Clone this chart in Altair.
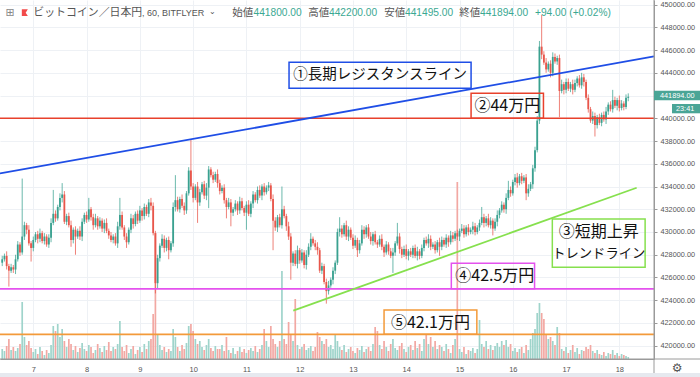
import json
import altair as alt
import pandas as pd

# ---------------- data ----------------
FIRST_HOUR = 10          # first candle: hour index counted from Jan 6 00:00
first_open = 427300
closes = [
    427600, 427900, 427000, 426600, 426900, 426700, 427600, 428900, 428200, 429600,
    430600, 430200, 429000, 428600, 429300, 429800, 429400, 429900, 429200, 429600,
    428900, 429500, 430800, 431600, 431200, 432200, 433000, 433300, 430900, 431400,
    430600, 429300, 430200, 429600, 430100, 429600, 430900, 431500, 431100, 432000,
    431300, 430600, 431200, 430500, 431000, 430300, 430800, 430100, 429700, 429300,
    429600, 429000, 430500, 431500, 430400, 429600, 429100, 430200, 431200, 430700,
    431600, 431000, 431900, 431400, 432200, 431600, 432600, 432300, 429900, 425500,
    427700, 428800, 429400, 428600, 429300, 428400, 429000, 432200, 432800, 432000,
    432900, 432300, 431900, 433400, 435400, 434000, 433000, 434000, 432600, 433500,
    434200, 433200, 433900, 435500, 435000, 434600, 435100, 434300, 433600, 433900,
    432800, 432200, 432600, 431700, 432000, 432500, 431900, 432700, 432100, 431700,
    432400, 431600, 432500, 433300, 432800, 433700, 433200, 434000, 433500, 433900,
    434100, 432900, 431000, 430400, 431300, 430600, 432000, 431400, 430500, 429600,
    427300, 428100, 427200, 428400, 427500, 428200, 427100, 428000, 428700, 429400,
    429000, 428700,
    428400, 426600, 427000, 425600, 424800, 425300, 425800, 426600, 427300, 430000,
    430300, 429800, 430600, 429600, 430200, 429500, 428800, 429300, 428400, 429000,
    430200, 429800, 430400, 429600, 429200, 429800, 429100, 428900, 429400, 428700,
    428200, 428900, 428300, 427900, 428200, 429000, 429600, 428500, 428000, 428500,
    427900, 428300, 428000, 428600, 427900, 428300, 427900, 428600, 429300, 429000,
    429400, 428700, 428900, 428400, 429100, 428700, 429300, 428900, 429500, 429100,
    429700, 429400, 429900, 429600, 430100, 430300, 429800, 430400, 430000, 430200,
    430500, 430000, 430400, 430800, 431300, 430800, 431200, 430600, 431000, 430300,
    430900, 431500, 431900, 432400, 432000, 433000, 433700, 433400, 434400, 434800,
    434300, 434900, 434500, 434800, 433400, 433800, 434200, 435600, 437200, 439800,
    446300, 445600, 444900, 444300, 444800, 444000, 445400, 445000, 445300, 442400,
    443000, 442500, 443200, 442600, 443000, 442500, 443100, 443500, 442900, 443600,
    443200, 441800, 440800, 439800, 440200, 439400, 440100, 439600, 440300, 439900,
    440600, 441200, 440800, 441600, 441100, 441600, 440900, 441300, 441000, 441800,
    441894,
]
# wick lengths above / below the body, in hundreds of yen
upper_wick = [
    3, 2, 4, 2, 3, 2, 4, 3, 2, 51, 3, 2, 4, 2, 3, 2, 3, 4, 2, 3,
    2, 3, 4, 21, 3, 2, 4, 10, 3, 2, 3, 4, 2, 3, 2, 4, 3, 2, 3, 10,
    2, 3, 4, 2, 3, 2, 3, 4, 2, 3, 2, 3, 4, 15, 3, 2, 3, 2, 4, 3,
    2, 3, 4, 2, 3, 2, 3, 4, 3, 2, 3, 2, 4, 3, 2, 3, 2, 4, 22, 3,
    2, 4, 3, 2, 3, 27, 3, 2, 4, 3, 2, 3, 4, 3, 2, 3, 2, 4, 3, 2,
    3, 2, 4, 3, 2, 3, 2, 4, 3, 2, 3, 4, 2, 3, 2, 3, 4, 2, 3, 2,
    3, 2, 4, 3, 2, 3, 20, 3, 2, 4, 3, 2, 3, 4, 2, 3, 2, 4, 3, 5,
    2, 3, 4, 2, 3, 2, 3, 4, 2, 3, 2, 3, 10, 3, 2, 4, 3, 2, 3, 4,
    2, 3, 4, 3, 2, 3, 4, 2, 3, 2, 3, 4, 2, 3, 2, 3, 4, 2, 12, 3,
    2, 3, 4, 2, 3, 2, 3, 4, 2, 3, 2, 3, 4, 3, 2, 3, 2, 4, 3, 2,
    3, 2, 4, 3, 2, 3, 2, 4, 3, 2, 3, 2, 4, 3, 2, 3, 9, 3, 2, 4,
    3, 2, 3, 4, 2, 3, 2, 4, 8, 3, 2, 3, 4, 2, 3, 2, 3, 4, 2, 3,
    3, 4, 5, 28, 3, 4, 2, 3, 4, 3, 2, 3, 4, 2, 3, 3, 2, 4, 3, 2,
    3, 4, 3, 2, 3, 2, 4, 3, 2, 3, 2, 3, 4, 2, 3, 9, 3, 2, 4, 3,
    2, 3, 3,
]
lower_wick = [
    3, 2, 3, 14, 2, 3, 4, 2, 3, 2, 3, 4, 2, 12, 3, 2, 4, 3, 2, 3,
    2, 3, 4, 2, 3, 2, 3, 4, 2, 3, 2, 6, 3, 16, 2, 3, 4, 2, 3, 2,
    3, 4, 2, 3, 2, 3, 4, 2, 3, 2, 3, 2, 4, 3, 2, 3, 5, 2, 3, 4,
    2, 3, 2, 4, 3, 2, 3, 4, 2, 9, 5, 3, 2, 4, 3, 8, 2, 3, 4, 2,
    3, 2, 4, 3, 2, 3, 4, 2, 18, 3, 2, 3, 4, 18, 2, 3, 2, 4, 3, 2,
    3, 10, 2, 12, 3, 2, 4, 3, 2, 3, 15, 2, 3, 4, 2, 3, 2, 4, 3, 2,
    3, 2, 26, 3, 4, 2, 3, 2, 4, 3, 15, 3, 2, 4, 3, 2, 3, 4, 2, 3,
    2, 3, 4, 2, 3, 2, 11, 3, 2, 4, 3, 2, 4, 3, 2, 3, 4, 2, 3, 2,
    6, 3, 2, 4, 3, 2, 3, 4, 2, 3, 2, 3, 4, 2, 3, 2, 15, 3, 2, 4,
    3, 2, 3, 4, 2, 3, 2, 4, 3, 2, 3, 2, 4, 3, 2, 3, 2, 8, 3, 2,
    3, 4, 2, 3, 2, 3, 4, 2, 3, 2, 3, 2, 4, 3, 2, 3, 2, 4, 3, 2,
    3, 6, 2, 4, 3, 2, 3, 4, 2, 3, 2, 3, 4, 2, 3, 2, 6, 3, 2, 4,
    3, 2, 3, 4, 2, 3, 2, 4, 3, 2, 3, 23, 2, 4, 3, 2, 3, 4, 2, 3,
    2, 3, 4, 2, 3, 2, 3, 10, 3, 2, 3, 2, 4, 3, 2, 3, 2, 4, 3, 2,
    3, 2, 3,
]
# hourly volume (tens of BTC)
volumes = [
    10, 8, 13, 20, 9, 12, 8, 11, 15, 57, 22, 14, 18, 11, 7, 10, 5, 12, 8, 4,
    9, 6, 14, 33, 28, 35, 22, 30, 18, 12, 20, 15, 9, 13, 7, 11, 16, 10, 8, 14,
    12, 6, 9, 15, 11, 7, 13, 9, 17, 8, 12, 10, 15, 38, 12, 8, 14, 6, 10, 13,
    5, 9, 12, 7, 15, 10, 18, 20, 45, 126, 25, 14, 9, 12, 7, 10, 8, 30, 22, 12,
    8, 14, 10, 16, 33, 35, 28, 20, 15, 18, 12, 9, 14, 20, 11, 8, 13, 10, 10, 14,
    8, 22, 9, 6, 11, 5, 8, 12, 7, 10, 6, 9, 11, 8, 13, 7, 10, 14, 30, 18,
    12, 33, 20, 15, 12, 18, 88, 20, 15, 37, 25, 18, 60, 14, 10, 12, 15, 9, 11, 13,
    8, 12, 27, 22, 18, 15, 20, 12, 14, 10, 25, 18, 12, 9, 14, 7, 10, 12, 8, 6,
    11, 9, 13, 7, 10, 12, 8, 15, 32, 28, 14, 10, 18, 12, 8, 15, 20, 11, 9, 13,
    16, 10, 7, 12, 14, 9, 18, 11, 15, 8, 20, 24, 15, 22, 12, 18, 10, 14, 12, 8,
    15, 10, 6, 14, 20, 177, 10, 7, 12, 5, 9, 8, 11, 6, 10, 39, 15, 12, 18, 10,
    14, 9, 13, 16, 12, 18, 14, 19, 12, 15, 8, 11, 7, 10, 12, 6, 14, 9, 20, 26,
    30, 46, 56, 46, 40, 25, 20, 22, 18, 14, 32, 26, 10, 8, 12, 6, 9, 14, 7, 11,
    5, 9, 8, 12, 10, 14, 8, 6, 9, 5, 4, 7, 3, 6, 5, 9, 4, 6, 3, 5,
    4, 3, 2,
]
day_hours = [24, 48, 72, 96, 120, 144, 168, 192, 216, 240, 264, 288]
day_labels = ["7", "8", "9", "10", "11", "12", "13", "14", "15", "16", "17", "18"]
price_ticks = [420000, 422000, 424000, 426000, 428000, 430000, 432000, 434000,
               436000, 438000, 440000, 442000, 444000, 446000, 448000, 450000]
levels = [440000, 425000, 421000]          # ②44万円, ④42.5万円, ⑤42.1万円
resistance_h = [9.0, 303.6]                # ①長期レジスタンスライン
resistance_p = [435150, 445440]
support_h = [141.1, 295.8]                 # ③短期上昇トレンドライン
support_p = [423080, 433890]

# ---------------- table ----------------
n = min(len(closes), len(upper_wick), len(lower_wick), len(volumes))
rows = []
prev = first_open
for i in range(n):
    o, c = prev, closes[i]
    rows.append({
        "h": FIRST_HOUR + i, "open": o, "close": c,
        "high": max(o, c) + upper_wick[i] * 100,
        "low": min(o, c) - lower_wick[i] * 100,
        "vol": volumes[i],
    })
    prev = c
df = pd.DataFrame(rows)

# ---------------- styles ----------------
UP, DN = "#3aa190", "#e8564b"
VUP, VDN = "#9fd4cb", "#f2a8a3"
GRID = "#eef1f5"
AX = "#9a9a9a"
TEAL_TXT = "#3aa892"
CJK = "Noto Sans CJK JP"
LAT = "Liberation Sans"

XS = alt.Scale(domain=[9.0, 303.6], nice=False, zero=False)
PY = alt.Scale(domain=[418830, 450404], nice=False, zero=False)
VS = alt.Scale(domain=[0, 359], nice=False, zero=False)

X_AXIS = alt.Axis(values=day_hours,
                  labelExpr=json.dumps(day_labels) + "[round(datum.value/24) - 1]",
                  grid=True, gridColor=GRID, domainColor=AX, tickSize=0,
                  labelPadding=6, labelFontSize=7.5, labelColor="#555",
                  labelFont=LAT, title=None, labelFlush=False)
Y_AXIS = alt.Axis(orient="right", values=price_ticks, format=".2f", grid=True,
                  gridColor=GRID, domainColor=AX, tickColor=AX, tickSize=3,
                  labelPadding=3, labelFontSize=7.3, labelColor="#555",
                  labelFont=LAT, title=None)


def X(field="h"):
    return alt.X(f"{field}:Q", scale=XS, axis=X_AXIS)


def PYE(field):
    return alt.Y(f"{field}:Q", scale=PY, axis=None)


up_cond = "datum.close >= datum.open"
base = alt.Chart(df)

vol = base.transform_calculate(zero="0").mark_rule(strokeWidth=1.7).encode(
    x=X(), y=alt.Y("vol:Q", scale=VS, axis=None), y2="zero:Q",
    color=alt.condition(up_cond, alt.value(VUP), alt.value(VDN)))

wick = base.mark_rule(strokeWidth=1, opacity=0.75).encode(
    x=X(), y=alt.Y("low:Q", scale=PY, axis=Y_AXIS), y2="high:Q",
    color=alt.condition(up_cond, alt.value(UP), alt.value(DN)))

body = base.mark_rule(strokeWidth=1.8).encode(
    x=X(), y=PYE("open"), y2="close:Q",
    color=alt.condition(up_cond, alt.value(UP), alt.value(DN)))

layers = [vol, wick, body]

level_colors = ["#e8412c", "#e452ee", "#f39a3a"]
for lv, col in zip(levels, level_colors):
    layers.append(alt.Chart(pd.DataFrame({"p": [lv]})).mark_rule(
        color=col, strokeWidth=1.6).encode(y=PYE("p")))

for hs, ps, col in [(resistance_h, resistance_p, "#1f4ee6"),
                    (support_h, support_p, "#86e04e")]:
    layers.append(alt.Chart(pd.DataFrame({"h": hs, "p": ps})).mark_line(
        color=col, strokeWidth=1.8).encode(x=X(), y=PYE("p")))

# annotation boxes: (h1, h2, p_top, p_bottom, colour)
boxes = [
    (139.2, 221.2, 444925, 442638, "#1f4ee6"),
    (221.2, 253.8, 442199, 440000, "#e8412c"),
    (257.8, 299.6, 431143, 426896, "#86e04e"),
    (212.3, 249.8, 427247, 425000, "#e452ee"),
    (182.0, 223.8, 423140, 421000, "#f39a3a"),
]
for h1, h2, p1, p2, col in boxes:
    layers.append(alt.Chart(pd.DataFrame({"h": [h1], "h2": [h2], "p": [p1], "p2": [p2]}))
                  .mark_rect(fill="white", fillOpacity=0, stroke=col, strokeWidth=1.5)
                  .encode(x=X(), x2="h2:Q", y=PYE("p"), y2="p2:Q"))

labels = [
    (180.2, 443782, "①長期レジスタンスライン", 14.5),
    (237.5, 441064, "②44万円", 16),
    (278.7, 430026, "③短期上昇", 16),
    (278.7, 428021, "トレンドライン", 13.3),
    (231.9, 426113, "④42.5万円", 16),
    (202.9, 422040, "⑤42.1万円", 16),
]
for h, p, t, fs in labels:
    layers.append(alt.Chart(pd.DataFrame({"h": [h], "p": [p]})).mark_text(
        font=CJK, fontSize=fs, color="#111", align="center", baseline="middle"
    ).encode(x=X(), y=PYE("p"), text=alt.value(t)))

one = pd.DataFrame({"a": [0]})


def ptext(x, y, t, color, size, font=LAT, align="left"):
    return alt.Chart(one).mark_text(font=font, fontSize=size, color=color,
                                    align=align, baseline="middle").encode(
        x=alt.value(x), y=alt.value(y), text=alt.value(t))


def prect(x1, x2, y1, y2, color):
    return alt.Chart(one).mark_rect(color=color).encode(
        x=alt.value(x1), x2=alt.value(x2), y=alt.value(y1), y2=alt.value(y2))


def prule(x1, x2, y1, y2, color):
    return alt.Chart(one).mark_rule(color=color, strokeWidth=1).encode(
        x=alt.value(x1), x2=alt.value(x2), y=alt.value(y1), y2=alt.value(y2))


# chrome: separators, price tag, gear, bottom strip
layers += [
    prule(654, 654, 0, 377, AX),
    prule(0, 700, 359, 359, AX),
    prect(0, 700, 373, 377, "#e6e9ef"),
    prect(654, 700, 90.7, 100.3, "#4aa596"),
    ptext(660, 95.5, f"{closes[n - 1]:.2f}", "white", 7.3),
    prect(672, 700, 104, 113.3, "#4aa596"),
    ptext(676, 108.7, "23:41", "white", 7.3),
    ptext(677, 368, "⚙", "#555", 12, font="DejaVu Sans", align="center"),
]

# header
GRAY = "#555"
layers += [
    ptext(10, 12.7, "⊞", "#888", 11, font="DejaVu Sans", align="center"),
    alt.Chart(one).mark_point(shape="M-0.8,-1L1,-1L0.35,0L1,1L-0.8,1Z", filled=True,
                              size=45, color="#f24b4b", opacity=1).encode(
        x=alt.value(24.5), y=alt.value(12.7)),
    ptext(33.3, 12.7, "ビットコイン／日本円", GRAY, 10.9, font=CJK),
    ptext(142, 12.7, ", 60, BITFLYER", GRAY, 9.0),
    ptext(209, 11.5, "⌄", GRAY, 8, font="DejaVu Sans"),
    ptext(232.3, 12.7, "始値", GRAY, 10.5, font=CJK),
    ptext(253.5, 12.7, "441800.00", TEAL_TXT, 10.2),
    ptext(308.3, 12.7, "高値", GRAY, 10.5, font=CJK),
    ptext(329, 12.7, "442200.00", TEAL_TXT, 10.2),
    ptext(384.3, 12.7, "安値", GRAY, 10.5, font=CJK),
    ptext(405, 12.7, "441495.00", TEAL_TXT, 10.2),
    ptext(459.3, 12.7, "終値", GRAY, 10.5, font=CJK),
    ptext(480, 12.7, "441894.00", TEAL_TXT, 10.2),
    ptext(535, 12.7, "+94.00 (+0.02%)", TEAL_TXT, 10.2),
]

chart = alt.layer(*layers).resolve_scale(y="independent").properties(
    width=654, height=359,
    autosize=alt.AutoSizeParams(type="none"),
    padding={"left": 0, "top": 0, "right": 46, "bottom": 18},
    background="white",
).configure_view(stroke=None)

chart.save("out.html", embed_options={"renderer": "svg", "actions": False})
